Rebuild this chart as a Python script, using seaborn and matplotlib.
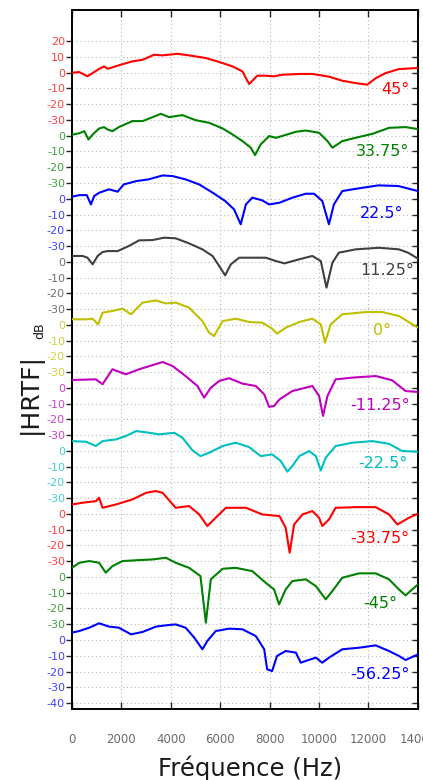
import numpy as np
import pandas as pd
import matplotlib
matplotlib.use("Agg")
import matplotlib.pyplot as plt
import seaborn as sns

# Elevation angles, top to bottom
angles = ["45°", "33.75°", "22.5°", "11.25°", "0°",
          "-11.25°", "-22.5°", "-33.75°", "-45°", "-56.25°"]

# Magnitude responses (Hz, dB) for each elevation
f_p45 = [0, 300, 630, 840, 1100, 1300, 1450, 1640, 1900, 2450, 2860, 3330, 3670, 4270,
         4740, 5420, 5960, 6500, 6900, 7170, 7500, 7840, 8180, 8500, 9200, 9730, 10400,
         10940, 11480, 11950, 12300, 12700, 13230, 14000]
db_p45 = [0, 0.4, -2.3, -0.2, 2.4, 4, 2.5, 3.4, 4.7, 7.2, 8.2, 11.4, 11, 12,
          11, 9.3, 6.8, 4, 0.8, -7.2, -1.9, -1.9, -2.3, -1.3, -0.8, -0.8, -2.5,
          -5.1, -6.6, -7.6, -3.4, -0.2, 2.3, 3]

f_p33 = [0, 300, 500, 670, 840, 1100, 1300, 1440, 1640, 1900, 2450, 2860, 3200, 3600,
         3930, 4470, 5000, 5550, 6100, 6500, 6900, 7240, 7410, 7640, 7980, 8250, 8500,
         9060, 9460, 10000, 10340, 10540, 10940, 11480, 12160, 12830, 13500, 14000]
db_p33 = [0.6, 1.6, 2.9, -2.4, 0.8, 4.6, 5.5, 4, 2.9, 5.5, 9.3, 9.3, 11.4, 13.9,
          11.8, 13.1, 9.9, 8.2, 4.6, 0.8, -3.4, -7.6, -12.3, -5.5, -0.2, -1.3, -0.2,
          2.5, 3.3, 1.9, -3.4, -7.6, -3.4, -1.3, 1.2, 5, 5.5, 4.2]

f_p22 = [0, 300, 600, 770, 900, 1100, 1500, 1850, 2100, 2600, 3100, 3670, 4070, 4600,
         5150, 5700, 6200, 6560, 6830, 7040, 7300, 7700, 7980, 8400, 8920, 9460, 9800,
         10130, 10400, 10600, 10940, 11480, 12400, 13200, 14000]
db_p22 = [1.3, 2.3, 2.3, -3.6, 1.7, 3.8, 6, 4.5, 9.1, 11.2, 12.3, 14.8, 14.4, 12.3,
          9.1, 3.8, -1.4, -6.7, -16.2, -3.6, 0.7, -1, -3.6, -2.5, 0.7, 3.2, 3.2,
          -1.4, -16.2, -3.6, 4.9, 6.3, 8.5, 8.1, 4.9]

f_p11 = [0, 430, 630, 840, 1040, 1240, 1440, 1850, 2300, 2720, 3260, 3730, 4200, 4740,
         5280, 5690, 5960, 6200, 6430, 6770, 7300, 7840, 8250, 8600, 9200, 9730, 10070,
         10300, 10540, 10800, 11480, 12430, 13230, 13600, 14000]
db_p11 = [3.7, 3.7, 2.6, -1.6, 3.7, 6.2, 6.8, 6.8, 10, 13.6, 13.8, 15.3, 14.9, 11.7,
          7.9, 3.7, -2.7, -8.6, -1.6, 2.6, 2.6, 2.6, 0.5, -1, 1.6, 3.7, 0.5,
          -16.4, -0.6, 5.8, 7.9, 8.9, 7.9, 5.8, 2]

f_0 = [0, 570, 840, 1060, 1240, 1640, 2050, 2390, 2860, 3400, 3800, 4200, 4740, 5280,
       5550, 5750, 6100, 6630, 7170, 7700, 8100, 8300, 8650, 9200, 9730, 10070, 10240,
       10470, 10940, 11890, 12560, 13230, 14000]
db_0 = [3.5, 3.5, 3.9, 0.3, 7.7, 8.8, 10.3, 6.7, 14.1, 15.5, 13.6, 14.1, 10.9, 2.4,
        -5, -7.1, 2.4, 3.9, 1.8, 1.4, -2.4, -5.6, -1.8, 1.8, 3.9, 0.3, -11.3,
        0.3, 6.7, 8.1, 8.1, 5.6, -1.8]

f_m11 = [0, 970, 1240, 1640, 2180, 2720, 3670, 4070, 4600, 4900, 5080, 5350, 5620, 5960,
         6360, 6900, 7440, 7780, 7980, 8180, 8400, 8920, 9460, 9730, 10000, 10160, 10340,
         10670, 11350, 12300, 12960, 13500, 14000]
db_m11 = [5, 5.4, 2.3, 11.8, 8.6, 11.8, 16.4, 13.9, 7.5, 3.5, 1.2, -6.2, 0.1, 4.4,
          6.1, 2.7, 1.2, -4.1, -12.1, -11.5, -7.3, -2, 0.1, 1.2, -5.1, -17.8, -5.1,
          5.4, 6.5, 7.5, 4.8, -2, -2.6]

f_m22 = [0, 570, 970, 1240, 1780, 2180, 2600, 3130, 3530, 4140, 4470, 4880, 5200, 5550,
         6100, 6630, 7170, 7640, 8100, 8450, 8720, 8920, 9200, 9600, 9870, 10070, 10270,
         10670, 11350, 12160, 12830, 13370, 14000]
db_m22 = [6.2, 5.8, 3.1, 6.2, 7.3, 9.4, 12.6, 11.5, 10.5, 11.5, 8.4, 0.3, -3.3, -1.2,
          3.1, 5.2, 2.4, -3.3, -2.2, -6.4, -13.2, -9.6, -3.3, -0.1, -3.3, -12.4, -4.3,
          3.1, 5.2, 6.2, 4.5, -0.1, -0.5]

f_m33 = [0, 430, 970, 1100, 1240, 1780, 2450, 3000, 3400, 3670, 4200, 4740, 5150, 5480,
         5820, 6230, 7040, 7700, 8400, 8650, 8810, 8990, 9330, 9730, 10000, 10130, 10400,
         10670, 11480, 12290, 12830, 13170, 13640, 14000]
db_m33 = [6, 7.1, 8.1, 10.2, 3.9, 6, 9.2, 13.4, 14.5, 13.4, 3.9, 5, -0.3, -7.7,
          -2.4, 3.9, 3.9, -0.3, -1.4, -8.8, -24.6, -6.7, -0.3, 1.8, -2.4, -7.7, -3.5,
          3.9, 4.3, 4.3, -0.3, -6.7, -2.4, 0.1]

f_m45 = [0, 300, 700, 1100, 1370, 1640, 2050, 2720, 3260, 3800, 4200, 4740, 5200, 5420,
         5620, 6100, 6630, 7300, 7840, 8180, 8380, 8650, 8920, 9460, 9870, 10270, 10540,
         10940, 11620, 12290, 12830, 13230, 13500, 14000]
db_m45 = [5.8, 9, 10.1, 9, 2.7, 6.9, 10.1, 10.7, 11.1, 12.2, 9, 5.8, 0.6, -29,
          -1.5, 5.2, 5.8, 3.7, -3.7, -7.9, -17.4, -7.9, -2.6, -1.5, -5.8, -14.2, -8.9,
          -0.5, 2.3, 2.3, -1.5, -7.9, -11.7, -4.7]

f_m56 = [0, 300, 700, 1100, 1500, 1900, 2390, 2860, 3400, 3800, 4200, 4600, 4950, 5280,
         5480, 5820, 6360, 6900, 7440, 7780, 7900, 8100, 8300, 8650, 9060, 9260, 9460,
         9870, 10130, 10400, 10940, 11620, 12290, 12830, 13230, 13500, 14000]
db_m56 = [4.7, 5.7, 7.8, 10.6, 8.5, 7.8, 3.6, 5.1, 8.5, 9.3, 9.9, 7.8, 1.5, -5.9,
          -0.6, 5.7, 7.2, 6.8, 2.5, -5.9, -18.6, -19.7, -10.1, -7, -8, -14.4, -13.3,
          -11.2, -14.4, -11.2, -5.9, -4.9, -3.4, -7, -10.1, -12.7, -9.1]

freqs = [f_p45, f_p33, f_p22, f_p11, f_0, f_m11, f_m22, f_m33, f_m45, f_m56]
levels = [db_p45, db_p33, db_p22, db_p11, db_0, db_m11, db_m22, db_m33, db_m45, db_m56]

# Tick values shown for each trace (relative to its own 0 dB)
top_ticks = [20, 10, 0, -10, -20, -30]
mid_ticks = [0, -10, -20, -30]
bottom_ticks = [0, -10, -20, -30, -40]
x_ticks = [0, 2000, 4000, 6000, 8000, 10000, 12000, 14000]

# Classic MATLAB colour order, cycled from the lowest trace upward
matlab_order = [(0, 0, 1), (0, 0.5, 0), (1, 0, 0), (0, 0.75, 0.75),
                (0.75, 0, 0.75), (0.75, 0.75, 0), (0.25, 0.25, 0.25)]
n = len(angles)
colors = [matlab_order[(n - 1 - i) % len(matlab_order)] for i in range(n)]
spacing = 40  # dB between stacked traces

sns.set_style("white")
plt.rcParams["font.family"] = ["DejaVu Sans"]

rows = []
for i, (ang, f, d) in enumerate(zip(angles, freqs, levels)):
    for fi, di in zip(f, d):
        rows.append({"freq": fi, "level": di - spacing * i, "angle": ang})
df = pd.DataFrame(rows)

fig = plt.figure(figsize=(4.23, 7.80), dpi=100)
ax = fig.add_axes([0.170, 0.0906, 0.818, 0.897])

# dotted grid
for xv in x_ticks:
    ax.axvline(xv, color="#b8b8b8", lw=0.8, ls=(0, (1, 2.5)), zorder=0)

sns.lineplot(data=df, x="freq", y="level", hue="angle", hue_order=angles,
             palette=dict(zip(angles, colors)), estimator=None, sort=False,
             lw=1.5, legend=False, ax=ax, zorder=3)

# stacked y ticks with per-trace labels
ypos, ylab, ycol = [], [], []
for i in range(n):
    vals = top_ticks if i == 0 else (bottom_ticks if i == n - 1 else mid_ticks)
    for v in vals:
        ypos.append(v - spacing * i)
        ylab.append(str(v))
        ycol.append(colors[i])
for yv in ypos:
    ax.axhline(yv, color="#b8b8b8", lw=0.8, ls=(0, (1, 2.5)), zorder=0)

ax.set_xlim(0, 14000)
ax.set_ylim(-404, 40)
ax.set_yticks(ypos)
ax.set_yticklabels(ylab, fontsize=8)
for t, c in zip(ax.get_yticklabels(), ycol):
    t.set_color(c)
    t.set_alpha(0.75)
ax.set_xticks(x_ticks)
ax.set_xticklabels([str(v) for v in x_ticks], fontsize=8.5, color="#6a6a6a")

ax.tick_params(axis="y", which="both", left=True, right=False, direction="out",
               length=4, width=1, pad=1)
ax.tick_params(axis="x", which="both", bottom=True, top=True, direction="in",
               length=5, width=1, pad=17)
ax_r = ax.secondary_yaxis("right")
ax_r.set_yticks(ypos)
ax_r.set_yticklabels([])
ax_r.tick_params(direction="in", length=4, width=1)
ax_r.spines["right"].set_visible(False)

for s in ax.spines.values():
    s.set_color("black")
    s.set_linewidth(1.4)

ax.set_xlabel("")
ax.set_ylabel("")

# trace labels
label_pos = [(13070, -10.4), (12580, -9.7), (12540, -9.1), (12750, -5.8), (12540, -3.9),
             (12460, -11.5), (12580, -8.3), (12460, -15.3), (12460, -16.6), (12460, -21.6)]
for i, (ang, (lx, ly)) in enumerate(zip(angles, label_pos)):
    ax.text(lx, ly - spacing * i, ang, color=colors[i], fontsize=11.5,
            ha="center", va="center", zorder=4)

fig.text(250 / 423, 1 - 768 / 780, "Fréquence (Hz)", fontsize=17.5, color="#1a1a1a",
         ha="center", va="center")
fig.text(30 / 423, 1 - 394 / 780, "|HRTF|", fontsize=18, color="#1a1a1a",
         rotation=90, ha="center", va="center")
fig.text(40 / 423, 1 - 331 / 780, "dB", fontsize=9, color="#1a1a1a",
         rotation=90, ha="center", va="center")

fig.savefig("out.png", dpi=100)
